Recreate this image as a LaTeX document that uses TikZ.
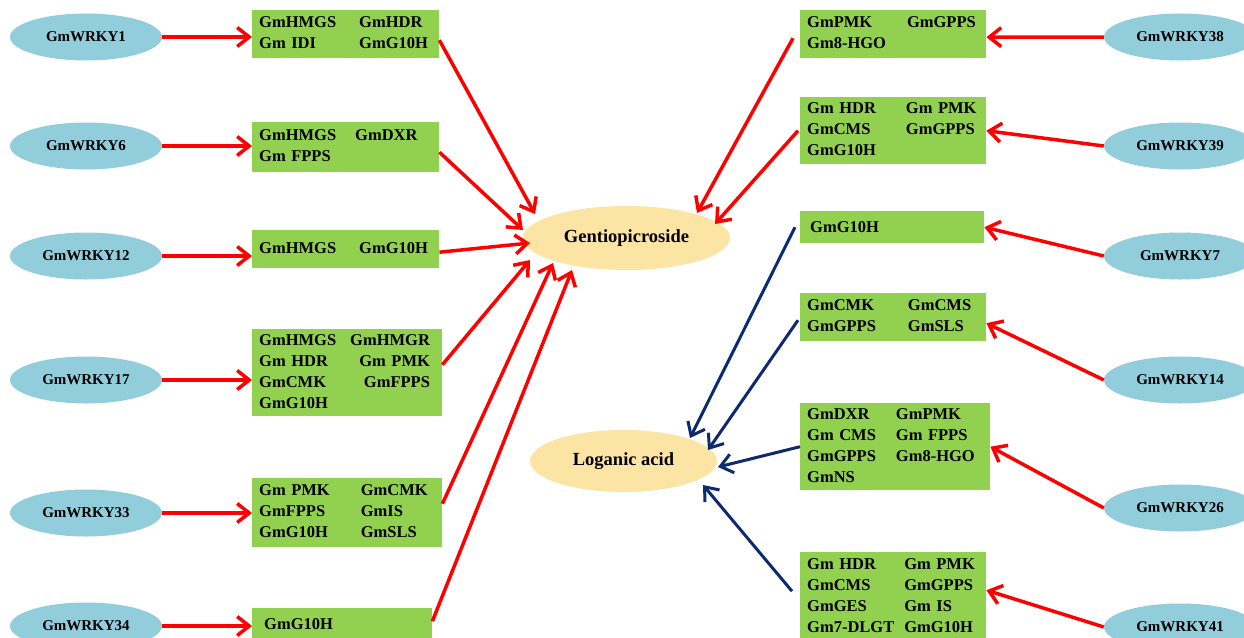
\documentclass[tikz,border=0pt]{standalone}
\usepackage{fontspec}
\setmainfont{Liberation Serif}
\usetikzlibrary{shapes.geometric,arrows.meta}
\definecolor{wblue}{HTML}{92CDDC}
\definecolor{bgreen}{HTML}{92D050}
\definecolor{pyell}{HTML}{FCE4A4}
\definecolor{ared}{HTML}{FF0000}
\definecolor{anavy}{HTML}{0D2A6E}
\begin{document}
\begin{tikzpicture}[x=1pt,y=-1pt,
 wrky/.style={ellipse, fill=wblue, minimum width=152pt, minimum height=47pt, inner sep=0pt, font=\fontsize{15}{18}\selectfont\bfseries},
 gene/.style={rectangle, fill=bgreen, anchor=north west, inner xsep=7pt, inner ysep=0pt, align=left, font=\fontsize{16.5}{21}\selectfont\bfseries},
 prod/.style={ellipse, fill=pyell, inner sep=0pt, font=\fontsize{18.5}{22}\selectfont\bfseries},
 redarr/.style={draw=ared, line width=3.5pt, -{Straight Barb[length=12pt,width=19pt]}},
 bluearr/.style={draw=anavy, line width=3pt, -{Straight Barb[length=12pt,width=19pt]}}
]
\clip (0,0) rectangle (1244,637);
\fill[white] (0,0) rectangle (1244,637);

% products
\node[prod, minimum width=207pt, minimum height=64pt] (g) at (626.5,238) {Gentiopicroside};
\node[prod, minimum width=187pt, minimum height=62pt] (l) at (623.5,461) {Loganic acid};

% left WRKY
\node[wrky] (w1) at (86,37) {GmWRKY1};
\node[wrky] (w6) at (86,146) {GmWRKY6};
\node[wrky] (w12) at (86,256) {GmWRKY12};
\node[wrky] (w17) at (86,380) {GmWRKY17};
\node[wrky] (w33) at (86,513) {GmWRKY33};
\node[wrky] (w34) at (86,626) {GmWRKY34};

% right WRKY
\node[wrky] (w38) at (1180,37) {GmWRKY38};
\node[wrky] (w39) at (1180,146) {GmWRKY39};
\node[wrky] (w7) at (1180,256) {GmWRKY7};
\node[wrky] (w14) at (1180,380) {GmWRKY14};
\node[wrky] (w26) at (1180,508) {GmWRKY26};
\node[wrky] (w41) at (1180,627) {GmWRKY41};

% left gene boxes
\node[gene, text width=173pt, minimum height=48pt] (b1) at (252,10)
 {\begin{tabular}{@{}l@{\hspace{23pt}}l@{}}GmHMGS & GmHDR\\ Gm IDI & GmG10H\end{tabular}};
\node[gene, text width=173pt, minimum height=50pt] (b6) at (252,122)
 {\begin{tabular}{@{}l@{\hspace{19pt}}l@{}}GmHMGS & GmDXR\\ Gm FPPS & \end{tabular}};
\node[gene, text width=173pt, minimum height=38pt] (b12) at (252,230)
 {\begin{tabular}{@{}l@{\hspace{23pt}}l@{}}GmHMGS & GmG10H\end{tabular}};
\node[gene, text width=176pt, minimum height=87pt] (b17) at (252,329)
 {\begin{tabular}{@{}l@{\hspace{14pt}}r@{}}GmHMGS & GmHMGR\\ Gm HDR & Gm PMK\\ GmCMK & GmFPPS\\ GmG10H & \end{tabular}};
\node[gene, text width=176pt, minimum height=69pt] (b33) at (252,478)
 {\begin{tabular}{@{}l@{\hspace{31pt}}l@{}}Gm PMK & GmCMK\\ GmFPPS & GmIS\\ GmG10H & GmSLS\end{tabular}};
\node[gene, text width=166pt, minimum height=32pt] (b34) at (252,608)
 {\hspace{5pt}GmG10H};

% right gene boxes
\node[gene, text width=172pt, minimum height=48pt] (b38) at (800,10)
 {\begin{tabular}{@{}l@{\hspace{21pt}}l@{}}GmPMK & GmGPPS\\ Gm8-HGO & \end{tabular}};
\node[gene, text width=172pt, minimum height=67pt] (b39) at (800,97)
 {\begin{tabular}{@{}l@{\hspace{30pt}}l@{}}Gm HDR & Gm PMK\\ GmCMS & GmGPPS\\ GmG10H & \end{tabular}};
\node[gene, text width=170pt, minimum height=32pt] (b7) at (800,211)
 {\hspace{3pt}GmG10H};
\node[gene, text width=172pt, minimum height=48pt] (b14) at (800,293)
 {\begin{tabular}{@{}l@{\hspace{32pt}}l@{}}GmCMK & GmCMS\\ GmGPPS & GmSLS\end{tabular}};
\node[gene, text width=176pt, minimum height=87pt] (b26) at (800,403)
 {\begin{tabular}{@{}l@{\hspace{20pt}}l@{}}GmDXR & GmPMK\\ Gm CMS & Gm FPPS\\ GmGPPS & Gm8-HGO\\ GmNS & \end{tabular}};
\node[gene, text width=172pt, minimum height=90pt] (b41) at (800,552)
 {\begin{tabular}{@{}l@{\hspace{10pt}}l@{}}Gm HDR & Gm PMK\\ GmCMS & GmGPPS\\ GmGES & Gm IS\\ Gm7-DLGT & GmG10H\end{tabular}};

% WRKY -> genes (left)
\draw[redarr] (w1.east) -- (w1.east -| b1.west);
\draw[redarr] (w6.east) -- (w6.east -| b6.west);
\draw[redarr] (w12.east) -- (w12.east -| b12.west);
\draw[redarr] (w17.east) -- (w17.east -| b17.west);
\draw[redarr] (w33.east) -- (w33.east -| b33.west);
\draw[redarr] (w34.east) -- (w34.east -| b34.west);

% WRKY -> genes (right)
\draw[redarr] (w38.west) -- ([yshift=-3pt]b38.east);
\draw[redarr] (w39.west) -- (b39.east);
\draw[redarr] (w7.west) -- (b7.east);
\draw[redarr] (w14.west) -- ([yshift=-6pt]b14.east);
\draw[redarr] (w26.west) -- (b26.east);
\draw[redarr] (w41.west) -- ([yshift=7pt]b41.east);

% genes -> Gentiopicroside
\draw[redarr] ([yshift=-6pt]b1.east) -- ([xshift=-91.5pt,yshift=24pt]g.center);
\draw[redarr] ([yshift=-5pt]b6.east) -- ([xshift=-103.5pt,yshift=8pt]g.center);
\draw[redarr] ([yshift=-3pt]b12.east) -- ([xshift=-96.5pt,yshift=-5pt]g.center);
\draw[redarr] ([yshift=8pt]b17.east) -- ([xshift=-96.5pt,yshift=-22pt]g.center);
\draw[redarr] ([yshift=9pt]b33.east) -- ([xshift=-73.5pt,yshift=-25pt]g.center);
\draw[redarr] ([yshift=3pt]b34.east) -- ([xshift=-54.5pt,yshift=-32pt]g.center);
\draw[redarr] ([xshift=-7pt,yshift=-4pt]b38.west) -- ([xshift=70.5pt,yshift=25pt]g.center);
\draw[redarr] ([xshift=-2pt]b39.west) -- ([xshift=88.5pt,yshift=14pt]g.center);

% genes -> Loganic acid
\draw[bluearr] ([xshift=-5pt]b7.west) -- ([xshift=66.5pt,yshift=23pt]l.center);
\draw[bluearr] ([xshift=-2pt,yshift=-3pt]b14.west) -- ([xshift=84.5pt,yshift=11pt]l.center);
\draw[bluearr] (b26.west) -- ([xshift=94.5pt,yshift=-6pt]l.center);
\draw[bluearr] ([xshift=-8pt,yshift=6pt]b41.west) -- ([xshift=79.5pt,yshift=-24pt]l.center);
\end{tikzpicture}
\end{document}
